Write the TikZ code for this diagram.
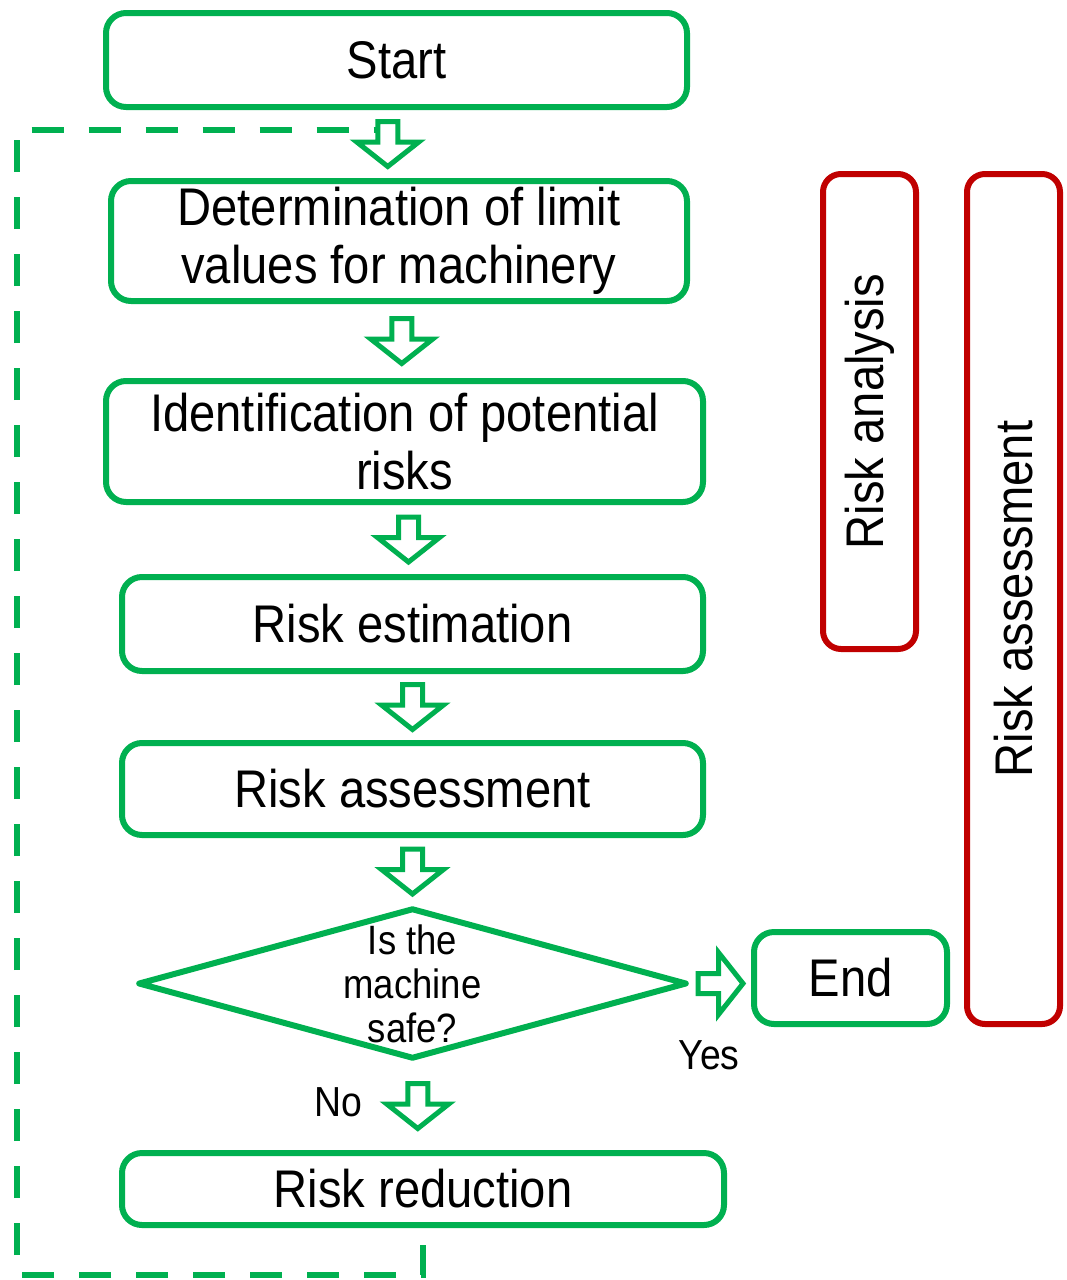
\documentclass[tikz,border=0pt]{standalone}
\usepackage{fontspec}
\setmainfont[FakeStretch=0.89]{Liberation Sans}
\usetikzlibrary{shapes.geometric,calc}

\definecolor{flowgreen}{RGB}{0,176,80}
\definecolor{boxred}{RGB}{192,0,0}

\tikzset{
  box/.style={draw=flowgreen, line width=6pt, rounded corners=20pt, inner sep=0pt,
    align=center, font=\fontsize{53}{58}\selectfont},
  redbox/.style={draw=boxred, line width=6pt, rounded corners=18pt, inner sep=0pt,
    rotate=90, font=\fontsize{53}{58}\selectfont},
  arrowline/.style={draw=flowgreen, line width=5pt, fill=white, line join=miter},
  loopline/.style={draw=flowgreen, line width=6pt, dash pattern=on 32pt off 25pt, dash phase=40pt},
  downarrow/.pic={
    \draw[arrowline] (-10,-22.5) -- (10,-22.5) -- (10,-2) -- (31,-2) -- (0,22.5)
      -- (-31,-2) -- (-10,-2) -- cycle;
    \coordinate (-left) at (-10,-14.5);
  }
}

\begin{document}
\begin{tikzpicture}[x=1pt, y=-1pt]
	\useasboundingbox (0,0) rectangle (1066,1280);

	% flow boxes
	\node [box, minimum width=581, minimum height=94] (start) at (396.5,60) {Start};
	\node [box, minimum width=576, minimum height=120] (det) at (399,241) {Determination of limit\\values for machinery};
	\node [box, minimum width=597, minimum height=121] (ident) at (404.5,441.5) {Identification of potential\\risks};
	\node [box, minimum width=581, minimum height=94] (est) at (412.5,624) {Risk estimation};
	\node [box, minimum width=581, minimum height=92] (assess) at (412.5,789) {Risk assessment};
	\node [diamond, draw=flowgreen, line width=6pt, line join=round, inner sep=0pt,
		minimum width=549, minimum height=151] (check) at (412.5,983.5) {};
	\node [font=\fontsize{41}{44}\selectfont, align=center] (question) at (check.center) {Is the\\machine\\safe?};
	\node [box, minimum width=193, minimum height=92] (end) at (850.5,978) {End};
	\node [box, minimum width=602, minimum height=72] (reduce) at (423,1189) {Risk reduction};

	% brackets on the right
	\node [redbox, minimum width=475, minimum height=93] (analysis) at (869.5,411.5) {Risk analysis};
	\node [redbox, minimum width=850, minimum height=93] (assessment) at (1013.5,599) {Risk assessment};

	% loop back
	\coordinate (loopcorner) at (17,1275);
	\draw [loopline] (reduce.south) |- (loopcorner) |- ($(start.south)!.5!(det.north)+(-20,-14.5)$);

	% arrows
	\pic (a1) at ($(start.south)!.5!(det.north)+(-10,0)$) {downarrow};
	\pic (a2) at ($(det.south)!.5!(ident.north)$) {downarrow};
	\pic (a3) at ($(ident.south)!.5!(est.north)$) {downarrow};
	\pic (a4) at ($(est.south)!.5!(assess.north)$) {downarrow};
	\pic (a5) at ($(assess.south)!.5!(check.north)$) {downarrow};
	\pic [rotate=90] (a6) at ($(check.east)!.5!(end.west |- check.east)$) {downarrow};
	\pic (a7) at ($(check.south)!.5!(reduce.north)$) {downarrow};

	\node [font=\fontsize{42}{44}\selectfont] (yes) at (709,1055) {Yes};
	\node [font=\fontsize{42}{44}\selectfont] (no) at (338,1102) {No};
\end{tikzpicture}
\end{document}
